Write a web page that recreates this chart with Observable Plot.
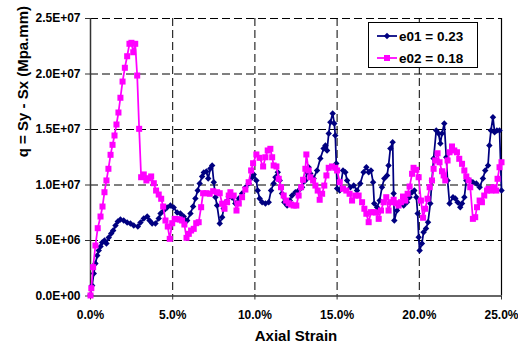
<!DOCTYPE html>
<html>
<head>
<meta charset="utf-8">
<script src="https://cdn.jsdelivr.net/npm/d3@7"></script>
<script src="https://cdn.jsdelivr.net/npm/@observablehq/plot@0.6"></script>
<style>
  body { margin: 0; background: #fff; }
  #wrap { position: relative; width: 518px; height: 344px; font-family: "Liberation Sans", Arial, sans-serif; }
  #legend { position: absolute; left: 368px; top: 22px; width: 110px; height: 46px; box-sizing: border-box;
            border: 1px solid #000; background: #fff; }
  .row { position: absolute; left: 0; height: 18px; display: flex; align-items: center; }
  .row svg { margin-left: 8px; }
  .row span { margin-left: 2px; font-weight: bold; font-size: 13.5px; color: #000; }
</style>
</head>
<body>
<div id="wrap"></div>
<script>
// ---- data (strain in %, q in units of 1E+06 Mpa.mm) ----
const seriesNames = ["e01 = 0.23", "e02 = 0.18"];
const seriesColors = ["#000080", "#FF00FF"];
const seriesSymbols = ["diamond2", "square"];

const strainE01 = [0.00,0.10,0.20,0.30,0.41,0.50,0.61,0.71,0.85,0.97,1.11,1.26,1.38,1.52,1.66,1.82,2.02,2.23,2.43,2.63,2.88,3.04,3.24,3.45,3.59,3.75,3.95,4.15,4.26,4.46,4.66,4.86,5.06,5.27,5.47,5.67,5.88,6.08,6.24,6.38,6.52,6.64,6.79,6.89,7.05,7.16,7.29,7.40,7.50,7.60,7.70,7.86,8.01,8.10,8.21,8.41,8.61,8.81,9.02,9.22,9.42,9.62,9.83,9.93,10.09,10.17,10.29,10.44,10.64,10.84,10.98,11.14,11.25,11.39,11.51,11.65,11.79,11.96,12.12,12.26,12.46,12.66,12.87,13.07,13.17,13.27,13.37,13.57,13.78,13.98,14.18,14.29,14.39,14.49,14.59,14.73,14.83,14.89,14.95,15.00,15.16,15.36,15.50,15.61,15.81,16.01,16.21,16.41,16.61,16.78,16.92,17.06,17.19,17.26,17.43,17.59,17.73,17.87,18.04,18.13,18.24,18.38,18.44,18.48,18.64,18.84,19.05,19.25,19.41,19.56,19.70,19.82,19.90,19.96,20.02,20.16,20.26,20.41,20.53,20.67,20.77,20.87,21.03,21.17,21.28,21.38,21.52,21.64,21.72,21.84,22.05,22.19,22.33,22.49,22.60,22.74,22.86,23.06,23.26,23.47,23.67,23.87,24.01,24.18,24.26,24.36,24.48,24.58,24.72,24.88,25.00];
const qE01 = [0.10,0.95,2.03,2.93,3.65,4.10,4.46,4.82,5.00,4.73,5.27,5.63,5.90,6.35,6.71,6.89,6.80,6.62,6.53,6.35,6.26,6.62,6.98,7.16,6.80,6.53,6.53,6.98,7.43,7.70,7.97,8.15,7.97,7.52,7.43,7.16,6.80,7.43,8.06,8.78,9.50,10.14,10.77,11.13,11.22,10.59,11.49,11.76,10.25,8.90,8.15,6.53,7.10,7.88,8.45,8.96,8.87,8.33,8.78,9.23,9.77,10.14,10.68,10.95,10.41,9.50,8.78,8.45,8.33,8.45,9.50,10.14,10.70,11.15,10.41,9.23,8.45,8.15,8.60,9.05,9.35,9.50,9.80,10.41,11.15,11.60,11.04,10.59,11.31,12.39,13.29,13.56,13.11,14.64,15.66,16.44,15.54,14.46,11.94,9.68,9.50,11.31,11.15,10.41,9.80,9.95,9.50,10.14,11.15,11.60,11.15,11.31,10.25,8.33,8.00,8.60,9.80,10.59,10.86,11.76,13.29,13.86,9.23,6.80,7.70,8.33,8.15,8.45,8.90,9.35,9.50,8.90,7.43,5.30,4.10,4.73,5.75,6.08,6.65,8.33,10.41,12.39,14.91,14.64,13.74,14.64,15.54,12.50,10.41,8.33,8.90,8.78,8.45,8.00,8.33,8.90,10.41,10.41,10.25,10.14,9.80,10.59,11.31,11.76,13.56,14.91,16.11,14.76,14.91,14.91,9.50];

const strainE02 = [0.00,0.05,0.16,0.30,0.44,0.61,0.73,0.85,0.97,1.09,1.22,1.34,1.46,1.58,1.70,1.82,1.95,2.09,2.23,2.37,2.49,2.60,2.72,2.84,2.96,3.08,3.24,3.40,3.54,3.69,3.85,3.99,4.15,4.30,4.42,4.56,4.70,4.82,4.97,5.12,5.27,5.43,5.57,5.71,5.84,5.98,6.12,6.28,6.43,6.58,6.73,6.85,7.05,7.25,7.46,7.70,7.86,8.01,8.15,8.31,8.41,8.51,8.71,8.88,9.02,9.22,9.42,9.62,9.77,9.89,10.09,10.29,10.50,10.64,10.78,10.94,11.05,11.14,11.31,11.45,11.59,11.75,11.90,12.05,12.20,12.36,12.52,12.66,12.81,12.93,13.07,13.13,13.27,13.37,13.54,13.68,13.82,13.94,14.09,14.22,14.35,14.49,14.69,14.89,15.00,15.16,15.36,15.56,15.76,15.91,16.11,16.31,16.52,16.66,16.78,16.92,17.06,17.22,17.37,17.53,17.67,17.83,17.99,18.13,18.28,18.44,18.60,18.74,18.89,19.01,19.15,19.29,19.41,19.56,19.65,19.82,19.96,20.10,20.23,20.36,20.50,20.63,20.77,20.87,20.97,21.11,21.23,21.38,21.48,21.58,21.72,21.84,21.99,22.13,22.29,22.43,22.60,22.74,22.86,23.00,23.10,23.26,23.40,23.51,23.67,23.81,23.95,24.12,24.21,24.38,24.52,24.68,24.76,24.88,25.00];
const qE02 = [0.05,0.70,2.60,4.55,6.11,7.16,8.06,9.35,10.41,11.46,12.72,13.62,14.46,15.45,16.53,17.86,19.32,20.56,21.60,22.72,22.81,21.96,22.72,19.86,15.06,10.70,10.95,10.41,10.61,10.77,10.16,9.50,9.14,8.76,8.06,6.80,6.26,5.15,6.56,6.95,6.92,6.89,6.80,6.44,5.24,5.60,5.90,6.05,6.56,6.65,8.00,9.26,9.26,9.21,9.44,9.35,9.26,8.31,7.86,8.45,9.05,9.35,9.05,7.70,8.33,8.90,9.59,10.25,11.31,11.96,12.75,12.45,11.67,12.50,13.11,13.26,12.50,11.76,11.67,10.56,9.80,9.05,8.60,8.36,8.24,8.15,8.15,9.05,9.80,10.47,11.46,12.75,11.31,10.70,10.41,9.95,9.50,8.67,9.21,9.95,10.86,11.55,11.67,11.55,11.31,10.25,9.66,9.50,9.21,8.60,9.05,9.05,8.45,7.86,7.41,6.65,7.55,7.55,7.52,6.95,7.70,8.45,8.90,7.70,8.45,8.67,8.36,8.15,8.45,8.96,8.60,9.21,9.86,11.01,11.55,11.37,10.70,8.60,7.05,7.86,8.76,9.80,10.41,11.46,12.21,12.86,12.05,11.24,10.86,10.41,12.21,12.95,13.47,13.11,12.95,12.36,11.91,11.31,10.77,10.41,9.80,6.95,7.10,8.00,8.60,8.45,9.05,9.50,9.66,9.50,9.80,9.50,10.56,11.60,12.05];

const xTicks = [0, 5, 10, 15, 20, 25];
const yTicks = [0, 5e6, 1e7, 1.5e7, 2e7, 2.5e7];
const xTitle = "Axial Strain";
const yTitle = "q = Sy - Sx (Mpa.mm)";

// ---- build tables ----
const e01 = strainE01.map((s, i) => ({strain: s, q: qE01[i] * 1e6}));
const e02 = strainE02.map((s, i) => ({strain: s, q: qE02[i] * 1e6}));

const sci = n => {
  const [m, e] = n.toExponential(1).split("e");
  const ex = +e;
  return m + "E" + (ex < 0 ? "-" : "+") + String(Math.abs(ex)).padStart(2, "0");
};
const font = "'Liberation Sans', Arial, sans-serif";
const rBlue = 2.9, rPink = 3.4;

const chart = Plot.plot({
  width: 518,
  height: 344,
  marginLeft: 90,
  marginRight: 17,
  marginTop: 18,
  marginBottom: 48.5,
  style: {fontFamily: font, fontSize: "12px", fontWeight: "bold", color: "#000", background: "#fff"},
  x: {domain: [0, 25], ticks: xTicks},
  y: {domain: [0, 2.5e7], ticks: yTicks},
  marks: [
    Plot.gridY(yTicks.slice(1), {stroke: "#000", strokeOpacity: 1, strokeDasharray: "8,4", strokeWidth: 1}),
    Plot.gridX(xTicks.slice(1, -1), {stroke: "#000", strokeOpacity: 1, strokeDasharray: "8,4", strokeWidth: 1}),
    Plot.ruleX([0], {stroke: "#333", strokeWidth: 1.5}),
    Plot.ruleX([25], {stroke: "#000", strokeWidth: 1.2}),
    Plot.ruleY([0], {stroke: "#333", strokeWidth: 1.5}),
    Plot.axisY(yTicks, {tickFormat: sci, tickSize: 5, tickPadding: 5, fontSize: 12, fontWeight: "bold", label: null, stroke: "#333"}),
    Plot.axisX(xTicks, {tickFormat: d => d.toFixed(1) + "%", tickSize: 4, tickPadding: 10, fontSize: 12, fontWeight: "bold", label: null, stroke: "#333"}),
    Plot.text([xTitle], {frameAnchor: "bottom", dy: 45, fontSize: 15, fontWeight: "bold", fill: "#000"}),
    Plot.text([yTitle], {frameAnchor: "left", dx: -67, rotate: -90, fontSize: 15, fontWeight: "bold", fill: "#000"}),
    Plot.line(e01, {x: "strain", y: "q", stroke: seriesColors[0], strokeWidth: 1.75}),
    Plot.dot(e01, {x: "strain", y: "q", symbol: seriesSymbols[0], r: rBlue, fill: seriesColors[0], stroke: "none"}),
    Plot.line(e02, {x: "strain", y: "q", stroke: seriesColors[1], strokeWidth: 1.75}),
    Plot.dot(e02, {x: "strain", y: "q", symbol: seriesSymbols[1], r: rPink, fill: seriesColors[1], stroke: "none"})
  ]
});

const wrap = document.getElementById("wrap");
wrap.appendChild(chart);

// ---- legend overlay ----
const legend = document.createElement("div");
legend.id = "legend";
const rowTops = [4, 26];
seriesNames.forEach((name, i) => {
  const row = document.createElement("div");
  row.className = "row";
  row.style.top = rowTops[i] + "px";
  const ns = "http://www.w3.org/2000/svg";
  const svg = document.createElementNS(ns, "svg");
  svg.setAttribute("width", 20); svg.setAttribute("height", 18);
  const line = document.createElementNS(ns, "line");
  line.setAttribute("x1", 0); line.setAttribute("x2", 20);
  line.setAttribute("y1", 9); line.setAttribute("y2", 9);
  line.setAttribute("stroke", seriesColors[i]); line.setAttribute("stroke-width", 1.75);
  svg.appendChild(line);
  const sym = document.createElementNS(ns, "path");
  const symType = seriesSymbols[i] === "square" ? d3.symbolSquare : d3.symbolDiamond2;
  const rr = seriesSymbols[i] === "square" ? rPink : rBlue;
  sym.setAttribute("d", d3.symbol(symType, Math.PI * rr * rr)());
  sym.setAttribute("transform", "translate(10,9)");
  sym.setAttribute("fill", seriesColors[i]);
  svg.appendChild(sym);
  row.appendChild(svg);
  const label = document.createElement("span");
  label.textContent = name;
  row.appendChild(label);
  legend.appendChild(row);
});
wrap.appendChild(legend);
</script>
</body>
</html>
